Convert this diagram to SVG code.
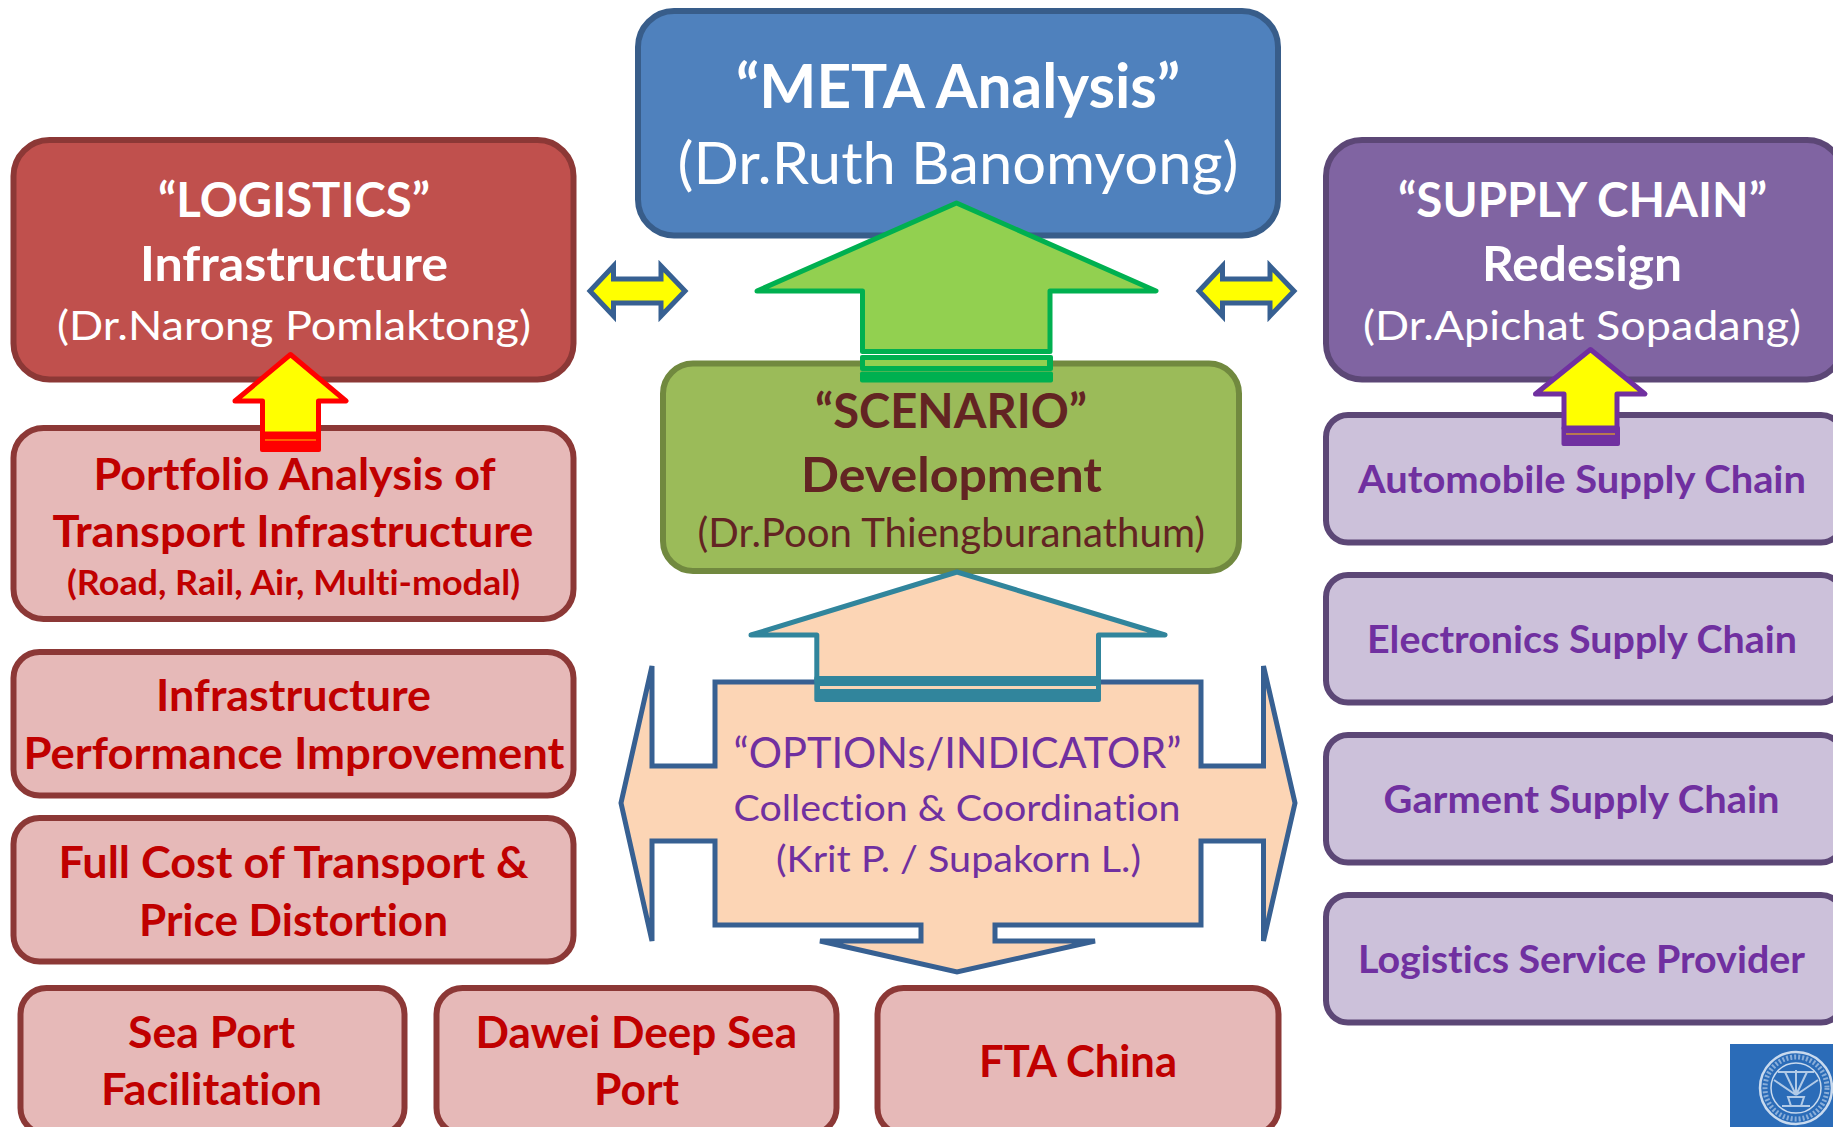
<svg xmlns="http://www.w3.org/2000/svg" width="1833" height="1127" viewBox="0 0 1833 1127">
<style>
text{font-family:Lato,"Open Sans","Liberation Sans",sans-serif;font-variant-ligatures:none}
.b{font-weight:700}
.r{font-weight:400}
.w{fill:#fff}.red{fill:#C00000}.pur{fill:#7030A0}.brn{fill:#632423}
.box{stroke-width:6}
.logi{fill:#C0504D;stroke:#8C3836}
.pink{fill:#E6B9B8;stroke:#8C3836}
.meta{fill:#4F81BD;stroke:#385D8A}
.scen{fill:#9BBB59;stroke:#71893F}
.supp{fill:#8064A2;stroke:#5C4776}
.sub{fill:#CCC1DA;stroke:#5C4776}
.arr{stroke-width:5;stroke-linejoin:round}
.dbl{fill:#FFFF00;stroke:#376092;stroke-width:5;stroke-linejoin:miter;stroke-miterlimit:6}
.seal{fill:none;stroke:#C9DAEE}
</style>
<rect width="1833" height="1127" fill="#fff"/>
<g id="node-meta"><rect class="box meta" x="638" y="11" width="640" height="224.500" rx="36"/>
<text class="b w" x="736" y="108" font-size="61" textLength="444" lengthAdjust="spacingAndGlyphs">“META Analysis”</text>
<text class="r w" x="677.500" y="184" font-size="58" textLength="561" lengthAdjust="spacingAndGlyphs">(Dr.Ruth Banomyong)</text></g>
<g id="node-logistics"><rect class="box logi" x="13.500" y="140" width="560" height="239.500" rx="36"/>
<text class="b w" x="158" y="216.500" font-size="47" textLength="272" lengthAdjust="spacingAndGlyphs">“LOGISTICS”</text>
<text class="b w" x="140" y="280.500" font-size="48" textLength="308" lengthAdjust="spacingAndGlyphs">Infrastructure</text>
<text class="r w" x="57" y="339.500" font-size="41" textLength="474" lengthAdjust="spacingAndGlyphs">(Dr.Narong Pomlaktong)</text></g>
<g id="node-supply-chain"><rect class="box supp" x="1326" y="140" width="517" height="239.500" rx="36"/>
<text class="b w" x="1398" y="216.500" font-size="47" textLength="369" lengthAdjust="spacingAndGlyphs">“SUPPLY CHAIN”</text>
<text class="b w" x="1482" y="280.500" font-size="48" textLength="200" lengthAdjust="spacingAndGlyphs">Redesign</text>
<text class="r w" x="1363" y="339.500" font-size="41" textLength="438" lengthAdjust="spacingAndGlyphs">(Dr.Apichat Sopadang)</text></g>
<g id="node-scenario"><rect class="box scen" x="663" y="363.500" width="576" height="207.500" rx="30"/>
<text class="b brn" x="815" y="428" font-size="47" textLength="272" lengthAdjust="spacingAndGlyphs">“SCENARIO”</text>
<text class="b brn" x="801" y="492" font-size="48" textLength="301" lengthAdjust="spacingAndGlyphs">Development</text>
<text class="r brn" x="697.500" y="546.500" font-size="41" textLength="507.500" lengthAdjust="spacingAndGlyphs">(Dr.Poon Thiengburanathum)</text></g>
<g id="node-portfolio"><rect class="box pink" x="13.500" y="428" width="560" height="191" rx="30"/>
<text class="b red" x="93.500" y="489.500" font-size="44" textLength="402" lengthAdjust="spacingAndGlyphs">Portfolio Analysis of</text>
<text class="b red" x="52.500" y="546.500" font-size="44" textLength="481" lengthAdjust="spacingAndGlyphs">Transport Infrastructure</text>
<text class="b red" x="67" y="594.500" font-size="35" textLength="453" lengthAdjust="spacingAndGlyphs">(Road, Rail, Air, Multi-modal)</text></g>
<g id="node-performance"><rect class="box pink" x="13.500" y="652" width="560" height="143.500" rx="26"/>
<text class="b red" x="156" y="711" font-size="44" textLength="275" lengthAdjust="spacingAndGlyphs">Infrastructure</text>
<text class="b red" x="23.500" y="769" font-size="44" textLength="541" lengthAdjust="spacingAndGlyphs">Performance Improvement</text></g>
<g id="node-full-cost"><rect class="box pink" x="13.500" y="818" width="560" height="143.500" rx="26"/>
<text class="b red" x="58.500" y="878" font-size="44" textLength="470" lengthAdjust="spacingAndGlyphs">Full Cost of Transport &amp;</text>
<text class="b red" x="139" y="936" font-size="44" textLength="309" lengthAdjust="spacingAndGlyphs">Price Distortion</text></g>
<g id="node-sea-port"><rect class="box pink" x="20.500" y="988" width="384" height="146" rx="26"/>
<text class="b red" x="128" y="1047.500" font-size="44" textLength="167" lengthAdjust="spacingAndGlyphs">Sea Port</text>
<text class="b red" x="101" y="1105" font-size="44" textLength="221" lengthAdjust="spacingAndGlyphs">Facilitation</text></g>
<g id="node-dawei"><rect class="box pink" x="436.500" y="988" width="400" height="146" rx="26"/>
<text class="b red" x="475.500" y="1047.500" font-size="44" textLength="321.500" lengthAdjust="spacingAndGlyphs">Dawei Deep Sea</text>
<text class="b red" x="594" y="1105" font-size="44" textLength="85" lengthAdjust="spacingAndGlyphs">Port</text></g>
<g id="node-fta"><rect class="box pink" x="877.500" y="988" width="401" height="146" rx="26"/>
<text class="b red" x="979" y="1076.500" font-size="44" textLength="198" lengthAdjust="spacingAndGlyphs">FTA China</text></g>
<g id="node-automobile"><rect class="box sub" x="1326" y="415" width="517" height="127.500" rx="22"/>
<text class="b pur" x="1358" y="493" font-size="38" textLength="448" lengthAdjust="spacingAndGlyphs">Automobile Supply Chain</text></g>
<g id="node-electronics"><rect class="box sub" x="1326" y="575" width="517" height="127.500" rx="22"/>
<text class="b pur" x="1367" y="653" font-size="38" textLength="430" lengthAdjust="spacingAndGlyphs">Electronics Supply Chain</text></g>
<g id="node-garment"><rect class="box sub" x="1326" y="735" width="517" height="127.500" rx="22"/>
<text class="b pur" x="1383.500" y="813" font-size="38" textLength="396" lengthAdjust="spacingAndGlyphs">Garment Supply Chain</text></g>
<g id="node-lsp"><rect class="box sub" x="1326" y="895" width="517" height="127.500" rx="22"/>
<text class="b pur" x="1358" y="973" font-size="38" textLength="447" lengthAdjust="spacingAndGlyphs">Logistics Service Provider</text></g>
<g id="node-options"><path d="M715 682H1201V766H1263.500V666L1295 803L1263.500 941V841H1201V925H995V941H1095L957 972L820 941H921V925H715V841H652V941L621 803L652 666V766H715Z" fill="#FCD5B5" stroke="#376092" stroke-width="5" stroke-linejoin="miter"/>
<text class="r pur" x="733.500" y="768" font-size="43" textLength="448" lengthAdjust="spacingAndGlyphs">“OPTIONs/INDICATOR”</text>
<text class="r pur" x="733.500" y="820.500" font-size="37" textLength="447" lengthAdjust="spacingAndGlyphs">Collection &amp; Coordination</text>
<text class="r pur" x="776" y="872" font-size="37" textLength="365" lengthAdjust="spacingAndGlyphs">(Krit P. / Supakorn L.)</text></g>
<g id="node-logo"><rect x="1730" y="1044" width="103" height="83" fill="#2B6CB8"/>
<circle class="seal" cx="1796" cy="1088" r="36" stroke-width="2.500"/>
<circle class="seal" cx="1796" cy="1088" r="25" stroke-width="1.500"/>
<circle class="seal" cx="1796" cy="1088" r="31" stroke-width="5" stroke-dasharray="2 2" opacity=".6"/>
<path class="seal" stroke-width="2" opacity=".85" d="M1796 1095L1774 1080M1796 1095L1785 1072M1796 1095V1070M1796 1095L1807 1072M1796 1095L1818 1080M1778 1072H1814M1782 1106H1810M1788 1097H1804L1801 1106H1791Z"/></g>
<g id="connectors">
<g id="arrow-green"><path class="arr" d="M956.500 203L1156 291H1050V351.500H862.500V291H757Z" fill="#92D050" stroke="#00B050"/>
<rect x="860" y="355" width="193" height="16" fill="#00B050" rx="2"/><rect x="865" y="360" width="182" height="6" fill="#92D050"/>
<rect x="860" y="371.500" width="193" height="11" fill="#00B050" rx="2"/></g>
<g id="arrow-orange"><path class="arr" d="M957 572L1165 635H1098.500V680H816.800V635H751Z" fill="#FCD5B5" stroke="#31859C"/>
<rect x="814.300" y="676" width="286.700" height="26" fill="#31859C" rx="2"/><rect x="820" y="686" width="276" height="3" fill="#FCD5B5"/></g>
<g id="arrow-red"><path class="arr" d="M290.500 354.500L346 401H318.500V434H262.500V401H235Z" fill="#FFFF00" stroke="#FF0000"/>
<rect x="260" y="432" width="61" height="20" fill="#FF0000" rx="2"/><rect x="265" y="439.500" width="51" height="1" fill="#FFC000"/></g>
<g id="arrow-purple"><path class="arr" d="M1590.500 349.500L1645 394H1617V428H1564V394H1535.500Z" fill="#FFFF00" stroke="#7030A0"/>
<rect x="1561.500" y="426" width="58.500" height="20" fill="#7030A0" rx="2"/><rect x="1566" y="433.500" width="49" height="1" fill="#FFC000"/></g>
<path id="arrow-double-left" class="dbl" d="M590 291L613.500 266V279H661V266L685 291L661 316V303H613.500V316Z"/>
<path id="arrow-double-right" class="dbl" d="M1199 291L1222.500 266V279H1270V266L1294 291L1270 316V303H1222.500V316Z"/>
</g>
</svg>
